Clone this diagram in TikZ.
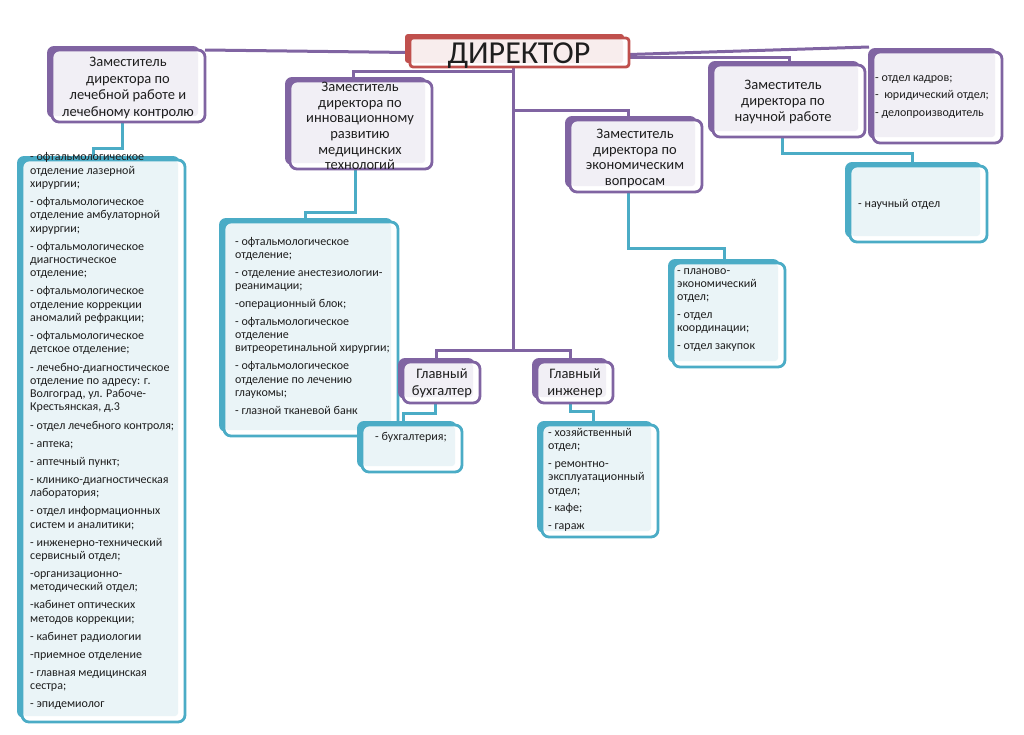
\documentclass[tikz,border=0pt]{standalone}
\usepackage{fontspec}
\setmainfont{Carlito}
\usetikzlibrary{shadows}
\definecolor{mpurple}{HTML}{8064A2}
\definecolor{plight}{HTML}{F1EFF5}
\definecolor{mteal}{HTML}{4BACC6}
\definecolor{tlight}{HTML}{EAF4F7}
\definecolor{mred}{HTML}{C0504D}
\definecolor{rlight}{HTML}{F8EDED}
\definecolor{tcol}{HTML}{1E1E1E}
\pgfdeclarelayer{bg}
\pgfsetlayers{bg,main}
\tikzset{
  box/.style={rectangle, rounded corners=7pt, line width=2.8pt, fill=white, inner sep=0pt, outer sep=0pt},
  pbox/.style={box, draw=mpurple,
    general shadow={fill=mpurple, shadow xshift=-5pt, shadow yshift=4pt},
    path picture={\fill[plight, rounded corners=3pt] ([shift={(1pt,-1pt)}]path picture bounding box.north west) rectangle ([shift={(-7pt,6pt)}]path picture bounding box.south east);}},
  tbox/.style={box, draw=mteal,
    general shadow={fill=mteal, shadow xshift=-5pt, shadow yshift=4pt},
    path picture={\fill[tlight, rounded corners=3pt] ([shift={(1pt,-1pt)}]path picture bounding box.north west) rectangle ([shift={(-7pt,6pt)}]path picture bounding box.south east);}},
  rbox/.style={box, draw=mred, rounded corners=3pt,
    general shadow={fill=mred, shadow xshift=-5pt, shadow yshift=4pt},
    path picture={\fill[rlight] ([shift={(1pt,-1pt)}]path picture bounding box.north west) rectangle ([shift={(-6pt,4pt)}]path picture bounding box.south east);}},
  mtext/.style={font=\fontsize{14.5}{16}\selectfont, align=center, inner sep=0pt, text=tcol},
  ltext/.style={font=\fontsize{12}{13.3}\selectfont, align=left, inner sep=0pt, anchor=north west, text=tcol},
  pline/.style={draw=mpurple, line width=3pt},
  tline/.style={draw=mteal, line width=3pt},
}
\begin{document}
\begin{tikzpicture}[x=1pt,y=-1pt]
\useasboundingbox (0,0) rectangle (1024,734);

% ---------- boxes ----------
\node[rbox, minimum width=219pt, minimum height=29pt] (dir) at (519.5,52.5) {};
\node[mtext, font=\fontsize{32}{34}\selectfont] (dirt) at (519,56) {ДИРЕКТОР};

\node[pbox, minimum width=153pt, minimum height=72pt] (dL) at (128.5,86) {};
\node[mtext, font=\fontsize{14.5}{16.5}\selectfont] (dLt) at (128,88) {Заместитель\\директора по\\лечебной работе и\\лечебному контролю};

\node[pbox, minimum width=142pt, minimum height=88pt] (dM) at (361,125) {};
\node[mtext, font=\fontsize{14.5}{15.7}\selectfont] (dMt) at (360,126) {Заместитель\\директора по\\инновационному\\развитию\\медицинских\\технологий};

\node[pbox, minimum width=132pt, minimum height=72pt] (dE) at (636,156) {};
\node[mtext, font=\fontsize{14.5}{15.7}\selectfont] (dEt) at (635,158.5) {Заместитель\\директора по\\экономическим\\вопросам};

\node[pbox, minimum width=152pt, minimum height=72pt] (dS) at (789,101) {};
\node[mtext] (dSt) at (783,102) {Заместитель\\директора по\\научной работе};

\node[pbox, minimum width=129pt, minimum height=91pt] (adm) at (937.5,97.5) {};
\node[ltext, font=\fontsize{12}{13.3}\selectfont] (admt) at (875,75) {- отдел кадров;\\[4.5pt]-\ \ юридический отдел;\\[4.5pt]- делопроизводитель};

\node[tbox, minimum width=163pt, minimum height=562pt] (lL) at (103.5,441) {};
\node[ltext] (lLt) at (30,152.5) {- офтальмологическое\\отделение лазерной\\хирургии;\\[4.8pt]
- офтальмологическое\\отделение амбулаторной\\хирургии;\\[4.8pt]
- офтальмологическое\\диагностическое\\отделение;\\[4.8pt]
- офтальмологическое\\отделение коррекции\\аномалий рефракции;\\[4.8pt]
- офтальмологическое\\детское отделение;\\[4.8pt]
- лечебно-диагностическое\\отделение по адресу: г.\\Волгоград, ул. Рабоче-\\Крестьянская, д.3\\[4.8pt]
- отдел лечебного контроля;\\[4.8pt]
- аптека;\\[4.8pt]
- аптечный пункт;\\[4.8pt]
- клинико-диагностическая\\лаборатория;\\[4.8pt]
- отдел информационных\\систем и аналитики;\\[4.8pt]
- инженерно-технический\\сервисный отдел;\\[4.8pt]
-организационно-\\методический отдел;\\[4.8pt]
-кабинет оптических\\методов коррекции;\\[4.8pt]
- кабинет радиологии\\[4.8pt]
-приемное отделение\\[4.8pt]
- главная медицинская\\сестра;\\[4.8pt]
- эпидемиолог};

\node[tbox, minimum width=174pt, minimum height=214pt] (lM) at (311,329) {};
\node[ltext] (lMt) at (235,237) {- офтальмологическое\\отделение;\\[4.5pt]
- отделение анестезиологии-\\реанимации;\\[4.5pt]
-операционный блок;\\[4.5pt]
- офтальмологическое\\отделение\\витреоретинальной хирургии;\\[4.5pt]
- офтальмологическое\\отделение по лечению\\глаукомы;\\[4.5pt]
- глазной тканевой банк};

\node[pbox, minimum width=77pt, minimum height=41pt] (gb) at (441.5,382.5) {};
\node[mtext, font=\fontsize{14.5}{17}\selectfont] (gbt) at (442,383.5) {Главный\\бухгалтер};

\node[pbox, minimum width=76pt, minimum height=41pt] (gi) at (575,382.5) {};
\node[mtext, font=\fontsize{14.5}{17}\selectfont] (git) at (575,383.5) {Главный\\инженер};

\node[tbox, minimum width=100pt, minimum height=47pt] (lB) at (412,448.5) {};
\node[ltext, anchor=west] (lBt) at (375,437) {- бухгалтерия;};

\node[tbox, minimum width=116pt, minimum height=112pt] (lG) at (600,481) {};
\node[ltext] (lGt) at (548,428) {- хозяйственный\\отдел;\\[4.5pt]
- ремонтно-\\эксплуатационный\\отдел;\\[4.5pt]
- кафе;\\[4.5pt]
- гараж};

\node[tbox, minimum width=112pt, minimum height=104pt] (lE) at (729,315) {};
\node[ltext] (lEt) at (677,268) {- планово-\\экономический\\отдел;\\[4.5pt]
- отдел\\координации;\\[4.5pt]
- отдел закупок};

\node[tbox, minimum width=137pt, minimum height=76pt] (lS) at (918.5,204) {};
\node[ltext, anchor=west] (lSt) at (858,204) {- научный отдел};

% ---------- connectors ----------
\coordinate (tr) at (513,350);
\coordinate (jm) at (353,71);
\coordinate (je) at (628,110);
\coordinate (jb) at (436,350);
\coordinate (jg) at (570,350);
\coordinate (a1) at (122,148); \coordinate (a2) at (93,148);
\coordinate (b1) at (355,212); \coordinate (b2) at (305,212);
\coordinate (c1) at (628,248); \coordinate (c2) at (724,248);
\coordinate (d1) at (782,153); \coordinate (d2) at (912,153);
\coordinate (e1) at (435,413); \coordinate (e2) at (403,413);
\coordinate (f1) at (570,411); \coordinate (f2) at (593,411);

\begin{pgfonlayer}{bg}
\draw[pline] (dir.west) -- (dL.north east);
\draw[pline] ([yshift=-2pt]dir.east) -- ([shift={(-4pt,5pt)}]adm.north west);
\draw[pline] ([yshift=-5pt]dir.east) -| (dS.north);
\draw[pline] (dir.south -| tr) -- (tr);
\draw[pline] (tr |- jm) -- (jm) -- (jm |- dM.north);
\draw[pline] (tr |- je) -- (je) -- (je |- dE.north);
\draw[pline] (jb |- gb.north) -- (jb) -- (jg) -- (jg |- gi.north);
\draw[tline] (a1 |- dL.south) -- (a1) -- (a2) -- (a2 |- lL.north);
\draw[tline] (b1 |- dM.south) -- (b1) -- (b2) -- (b2 |- lM.north);
\draw[tline] (c1 |- dE.south) -- (c1) -- (c2) -- (c2 |- lE.north);
\draw[tline] (d1 |- dS.south) -- (d1) -- (d2) -- (d2 |- lS.north);
\draw[tline] (e1 |- gb.south) -- (e1) -- (e2) -- (e2 |- lB.north);
\draw[tline] (f1 |- gi.south) -- (f1) -- (f2) -- (f2 |- lG.north);
\end{pgfonlayer}
\end{tikzpicture}
\end{document}
